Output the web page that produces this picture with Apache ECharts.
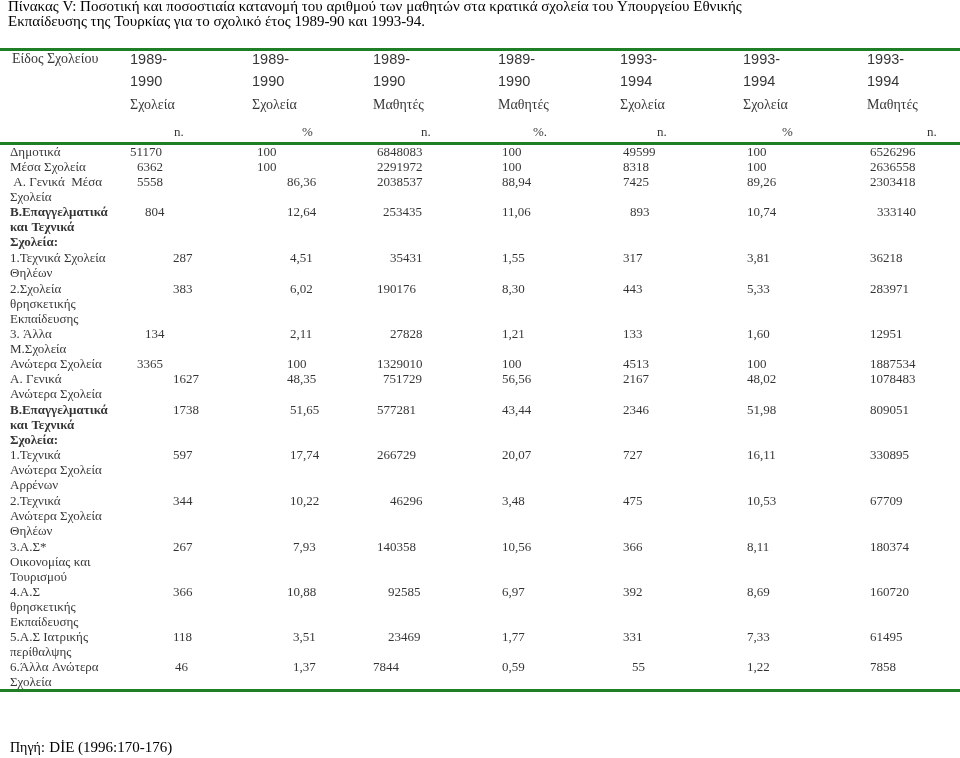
<!DOCTYPE html>
<html>
<head>
<meta charset="utf-8">
<script src="https://cdn.jsdelivr.net/npm/echarts@6/dist/echarts.min.js"></script>
<style>html,body{margin:0;padding:0;background:#fff}#c{width:960px;height:758px}</style>
</head>
<body>
<div id="c"></div>
<script>
// ---------- DATA ----------
const titleText = "Πίνακας V: Ποσοτική και ποσοστιαία κατανομή του αριθμού των μαθητών στα κρατικά σχολεία του Υπουργείου Εθνικής\nΕκπαίδευσης της Τουρκίας για το σχολικό έτος 1989-90 και 1993-94.";
const sourceLabel = "Πηγή:";
const sourceText = "DİE (1996:170-176)";
const firstHeader = "Είδος Σχολείου";
const yearStart = ["1989-", "1989-", "1989-", "1989-", "1993-", "1993-", "1993-"];
const yearEnd = ["1990", "1990", "1990", "1990", "1994", "1994", "1994"];
const kinds = ["Σχολεία", "Σχολεία", "Μαθητές", "Μαθητές", "Σχολεία", "Σχολεία", "Μαθητές"];
const units = ["n.", "%", "n.", "%.", "n.", "%", "n."];
const categories = [
  "Δημοτικά",
  "Μέσα Σχολεία",
  " Α. Γενικά  Μέσα\nΣχολεία",
  "Β.Επαγγελματικά\nκαι Τεχνικά\nΣχολεία:",
  "1.Τεχνικά Σχολεία\nΘηλέων",
  "2.Σχολεία\nθρησκετικής\nΕκπαίδευσης",
  "3. Άλλα\nΜ.Σχολεία",
  "Ανώτερα Σχολεία",
  "Α. Γενικά\nΑνώτερα Σχολεία",
  "Β.Επαγγελματικά\nκαι Τεχνικά\nΣχολεία:",
  "1.Τεχνικά\nΑνώτερα Σχολεία\nΑρρένων",
  "2.Τεχνικά\nΑνώτερα Σχολεία\nΘηλέων",
  "3.Α.Σ*\nΟικονομίας και\nΤουρισμού",
  "4.Α.Σ\nθρησκετικής\nΕκπαίδευσης",
  "5.Α.Σ Ιατρικής\nπερίθαλψης",
  "6.Άλλα Ανώτερα\nΣχολεία"
];
const boldRows = [3, 9];
const schools8990N = [51170, 6362, 5558, 804, 287, 383, 134, 3365, 1627, 1738, 597, 344, 267, 366, 118, 46];
const schools8990Pct = [100, 100, 86.36, 12.64, 4.51, 6.02, 2.11, 100, 48.35, 51.65, 17.74, 10.22, 7.93, 10.88, 3.51, 1.37];
const students8990N = [6848083, 2291972, 2038537, 253435, 35431, 190176, 27828, 1329010, 751729, 577281, 266729, 46296, 140358, 92585, 23469, 7844];
const students8990Pct = [100, 100, 88.94, 11.06, 1.55, 8.30, 1.21, 100, 56.56, 43.44, 20.07, 3.48, 10.56, 6.97, 1.77, 0.59];
const schools9394N = [49599, 8318, 7425, 893, 317, 443, 133, 4513, 2167, 2346, 727, 475, 366, 392, 331, 55];
const schools9394Pct = [100, 100, 89.26, 10.74, 3.81, 5.33, 1.60, 100, 48.02, 51.98, 16.11, 10.53, 8.11, 8.69, 7.33, 1.22];
const students9394N = [6526296, 2636558, 2303418, 333140, 36218, 283971, 12951, 1887534, 1078483, 809051, 330895, 67709, 180374, 160720, 61495, 7858];

// ---------- LAYOUT (kept separate from data) ----------
const rowY = [153, 168, 183, 213, 259, 290, 335, 365, 380, 411, 456, 502, 548, 593, 638, 668];
const headerX = [130, 252, 373, 498, 620, 743, 867];
const unitX = [174, 302, 421, 533, 657, 782, 927];
const colX = [
  [130, 137, 137, 145, 173, 173, 145, 137, 173, 173, 173, 173, 173, 173, 173, 175],
  [257, 257, 287, 287, 290, 290, 290, 287, 287, 290, 290, 290, 293, 287, 293, 293],
  [377, 377, 377, 383, 390, 377, 390, 377, 383, 377, 377, 390, 377, 388, 388, 373],
  Array(16).fill(502),
  [623, 623, 623, 630, 623, 623, 623, 623, 623, 623, 623, 623, 623, 623, 623, 632],
  Array(16).fill(747),
  [870, 870, 870, 877, 870, 870, 870, 870, 870, 870, 870, 870, 870, 870, 870, 870]
];
const ruleY = [49, 143, 690];

const SERIF = '"Liberation Serif","Times New Roman",serif';
const SANS = '"Liberation Sans",Arial,sans-serif';
const fmtPct = v => (v === 100 ? "100" : v.toFixed(2).replace(".", ","));

function textSeries(items, font, lh, extra) {
  const s = {
    type: 'scatter', symbolSize: 0, silent: true, animation: false, z: 5,
    data: items.map(it => ({ value: [it.x, it.y], text: it.t })),
    label: Object.assign({
      show: true, position: [0, -lh / 2], align: 'left', verticalAlign: 'top',
      lineHeight: lh, color: '#000', formatter: p => p.data.text
    }, font),
    emphasis: { disabled: true }
  };
  return Object.assign(s, extra || {});
}

const columns = [
  schools8990N.map(String), schools8990Pct.map(fmtPct),
  students8990N.map(String), students8990Pct.map(fmtPct),
  schools9394N.map(String), schools9394Pct.map(fmtPct),
  students9394N.map(String)
];

const series = [];
// header
series.push(textSeries([{ x: 12, y: 59, t: firstHeader }], { fontFamily: SERIF, fontSize: 14 }, 16, {
  markLine: {
    silent: true, symbol: ['none', 'none'], label: { show: false },
    lineStyle: { color: '#1f7f25', width: 3, type: 'solid' },
    data: ruleY.map(y => ({ yAxis: y }))
  }
}));
series.push(textSeries(yearStart.map((t, i) => ({ x: headerX[i], y: 60, t })), { fontFamily: SANS, fontSize: 14.5 }, 16));
series.push(textSeries(yearEnd.map((t, i) => ({ x: headerX[i], y: 82, t })), { fontFamily: SANS, fontSize: 14.5 }, 16));
series.push(textSeries(kinds.map((t, i) => ({ x: headerX[i], y: 105, t })), { fontFamily: SERIF, fontSize: 14 }, 16));
series.push(textSeries(units.map((t, i) => ({ x: unitX[i], y: 133, t })), { fontFamily: SERIF, fontSize: 13 }, 15));
// row labels
series.push(textSeries(categories.map((t, i) => ({ x: 10, y: rowY[i], t })).filter((d, i) => boldRows.indexOf(i) < 0),
  { fontFamily: SERIF, fontSize: 13 }, 15));
series.push(textSeries(categories.map((t, i) => ({ x: 10, y: rowY[i], t })).filter((d, i) => boldRows.indexOf(i) >= 0),
  { fontFamily: SERIF, fontSize: 13, fontWeight: 'bold' }, 15));
// values
columns.forEach((col, c) => {
  series.push(textSeries(col.map((t, r) => ({ x: colX[c][r], y: rowY[r], t })), { fontFamily: SERIF, fontSize: 13 }, 15));
});

const chart = echarts.init(document.getElementById('c'), null, { renderer: 'canvas' });
chart.setOption({
  animation: false,
  backgroundColor: '#fff',
  title: [
    { text: titleText, left: 8, top: 0, padding: 0,
      textStyle: { fontFamily: SERIF, fontSize: 15, fontWeight: 'normal', color: '#000', lineHeight: 15 } },
    { text: '{a|' + sourceLabel + '} {b|' + sourceText + '}', left: 10, top: 739, padding: 0,
      textStyle: { fontWeight: 'normal', fontFamily: SERIF, rich: {
        a: { fontFamily: SERIF, fontSize: 14, fontWeight: 'normal', color: '#000' },
        b: { fontFamily: SERIF, fontSize: 15, fontWeight: 'normal', color: '#000' } } } }
  ],
  grid: { left: 0, right: 0, top: 0, bottom: 0 },
  xAxis: { type: 'value', min: 0, max: 960, show: false },
  yAxis: { type: 'value', min: 0, max: 758, inverse: true, show: false },
  series
});
</script>
</body>
</html>
